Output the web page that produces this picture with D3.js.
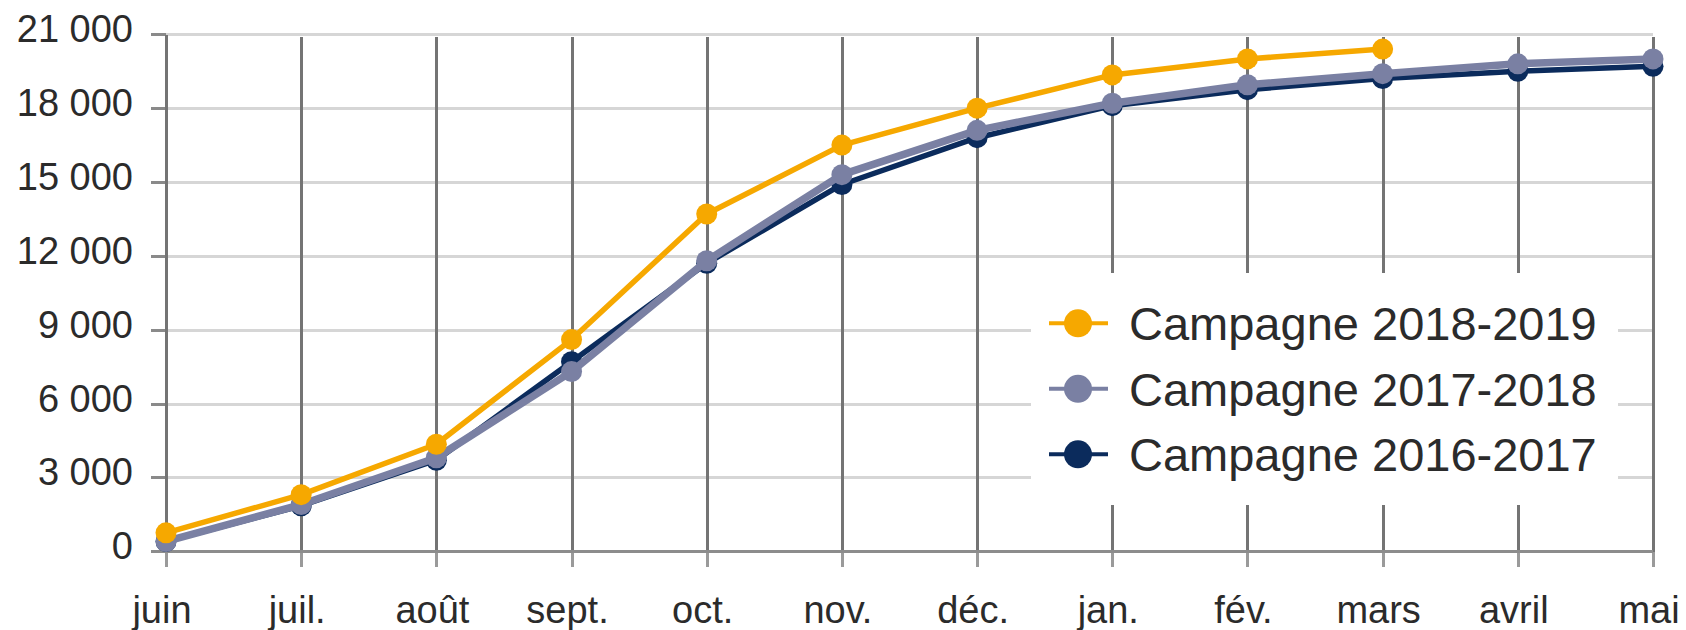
<!DOCTYPE html>
<html>
<head>
<meta charset="utf-8">
<script src="https://cdn.jsdelivr.net/npm/d3@7"></script>
<style>
  html, body { margin: 0; padding: 0; background: #fff; }
  svg { display: block; font-family: "Liberation Sans", Arial, sans-serif; }
  .grid line, .axis-line { shape-rendering: crispEdges; }
  .tick-label { fill: #2b2b2b; font-size: 38px; }
  .legend-label { fill: #2b2b2b; font-size: 47px; }
</style>
</head>
<body>
<div id="chart"></div>
<script>
var months = ['juin', 'juil.', 'août', 'sept.', 'oct.', 'nov.', 'déc.', 'jan.', 'fév.', 'mars', 'avril', 'mai']
var yTicks = [0, 3000, 6000, 9000, 12000, 15000, 18000, 21000]

var campagne2016 = [400, 1850, 3700, 7700, 11700, 14900, 16800, 18100, 18750, 19200, 19500, 19700]
var campagne2017 = [400, 1900, 3800, 7300, 11800, 15300, 17100, 18200, 18950, 19400, 19800, 20000]
var campagne2018 = [750, 2300, 4350, 8600, 13700, 16500, 18000, 19350, 20000, 20400]

var seriesNames = ['Campagne 2018-2019', 'Campagne 2017-2018', 'Campagne 2016-2017']
var seriesColors = ['#f6a800', '#7a80a3', '#0b2b5c']

;(function (d3) {
  var width = 1686
  var height = 630
  var margin = { top: 34.3, right: 33, bottom: 78.7, left: 166 }

  var svg = d3.select('#chart')
    .append('svg')
    .attr('width', width)
    .attr('height', height)

  var x = d3.scalePoint()
    .domain(months)
    .range([margin.left, width - margin.right])
  var y = d3.scaleLinear()
    .domain([0, 21000])
    .range([height - margin.bottom, margin.top])

  var fmt = d3.formatLocale({ decimal: ',', thousands: ' ', grouping: [3], currency: ['', ' €'] }).format(',d')

  function px (v) { return Math.round(v) + 0.5 }

  // horizontal gridlines
  svg.append('g')
    .attr('class', 'grid')
    .selectAll('line')
    .data(yTicks.slice(1))
    .enter().append('line')
    .attr('x1', margin.left)
    .attr('x2', width - margin.right)
    .attr('y1', function (d) { return px(y(d)) })
    .attr('y2', function (d) { return px(y(d)) })
    .attr('stroke', '#d6d6d6')
    .attr('stroke-width', 3)

  // vertical gridlines
  svg.append('g')
    .attr('class', 'grid')
    .selectAll('line')
    .data(months.slice(1))
    .enter().append('line')
    .attr('x1', function (d) { return px(x(d)) })
    .attr('x2', function (d) { return px(x(d)) })
    .attr('y1', px(y(21000)) + 2)
    .attr('y2', px(y(0)))
    .attr('stroke', '#747474')
    .attr('stroke-width', 3)

  // x ticks below the axis
  svg.append('g')
    .attr('class', 'grid')
    .selectAll('line')
    .data(months)
    .enter().append('line')
    .attr('x1', function (d) { return px(x(d)) })
    .attr('x2', function (d) { return px(x(d)) })
    .attr('y1', px(y(0)))
    .attr('y2', px(y(0)) + 15)
    .attr('stroke', '#9a9a9a')
    .attr('stroke-width', 3)

  // y ticks left of the axis
  svg.append('g')
    .attr('class', 'grid')
    .selectAll('line')
    .data(yTicks)
    .enter().append('line')
    .attr('x1', margin.left - 15)
    .attr('x2', margin.left)
    .attr('y1', function (d) { return px(y(d)) })
    .attr('y2', function (d) { return px(y(d)) })
    .attr('stroke', '#8a8a8a')
    .attr('stroke-width', 3)

  // axes lines
  svg.append('line')
    .attr('class', 'axis-line')
    .attr('x1', margin.left - 15)
    .attr('x2', width - margin.right)
    .attr('y1', px(y(0)))
    .attr('y2', px(y(0)))
    .attr('stroke', '#8c8c8c')
    .attr('stroke-width', 3)
  svg.append('line')
    .attr('class', 'axis-line')
    .attr('x1', px(margin.left))
    .attr('x2', px(margin.left))
    .attr('y1', px(y(21000)))
    .attr('y2', px(y(0)))
    .attr('stroke', '#747474')
    .attr('stroke-width', 3)

  // tick labels
  svg.append('g')
    .selectAll('text')
    .data(yTicks)
    .enter().append('text')
    .attr('class', 'tick-label')
    .attr('x', 133)
    .attr('y', function (d) { return y(d) + 8 })
    .attr('text-anchor', 'end')
    .text(function (d) { return fmt(d) })

  svg.append('g')
    .selectAll('text')
    .data(months)
    .enter().append('text')
    .attr('class', 'tick-label')
    .attr('x', function (d) { return x(d) - 4 })
    .attr('y', 623)
    .attr('text-anchor', 'middle')
    .text(function (d) { return d })

  // lines + markers, 2016-2017 at the bottom
  var series = [
    { values: campagne2016, color: seriesColors[2], width: 5.5 },
    { values: campagne2017, color: seriesColors[1], width: 7.5 },
    { values: campagne2018, color: seriesColors[0], width: 5.5 }
  ]
  var line = d3.line()
    .x(function (d, i) { return x(months[i]) })
    .y(function (d) { return y(d) })

  series.forEach(function (s) {
    var g = svg.append('g')
    g.append('path')
      .datum(s.values)
      .attr('d', line)
      .attr('fill', 'none')
      .attr('stroke', s.color)
      .attr('stroke-width', s.width)
      .attr('stroke-linejoin', 'round')
    g.selectAll('circle')
      .data(s.values)
      .enter().append('circle')
      .attr('cx', function (d, i) { return x(months[i]) })
      .attr('cy', function (d) { return y(d) })
      .attr('r', 10.5)
      .attr('fill', s.color)
  })

  // legend
  var legend = svg.append('g')
  legend.append('rect')
    .attr('x', 1031)
    .attr('y', 273)
    .attr('width', 587)
    .attr('height', 232)
    .attr('fill', '#fff')

  var items = legend.selectAll('.item')
    .data(seriesNames)
    .enter().append('g')
    .attr('class', 'item')
    .attr('transform', function (d, i) { return 'translate(0,' + (323.3 + i * 65.5) + ')' })
  items.append('line')
    .attr('x1', 1049)
    .attr('x2', 1108)
    .attr('stroke', function (d, i) { return seriesColors[i] })
    .attr('stroke-width', 4)
  items.append('circle')
    .attr('cx', 1078)
    .attr('r', 14)
    .attr('fill', function (d, i) { return seriesColors[i] })
  items.append('text')
    .attr('class', 'legend-label')
    .attr('x', 1129)
    .attr('y', 17)
    .text(function (d) { return d })
})(d3)
</script>
</body>
</html>
